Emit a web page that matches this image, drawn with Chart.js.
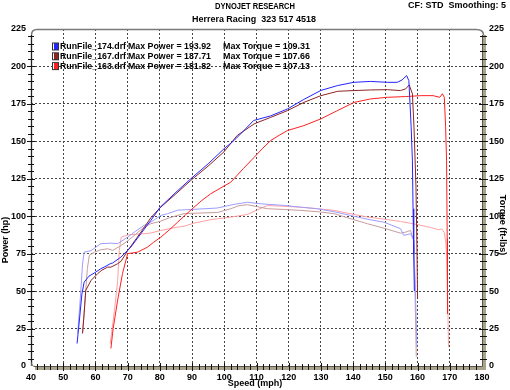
<!DOCTYPE html>
<html lang="en">
<head>
  <meta charset="UTF-8">
  <title>Dynojet Research</title>
  <script src="https://cdn.jsdelivr.net/npm/chart.js"></script>
  <style>
    html, body { margin: 0; padding: 0; background: #fff; }
    #wrap { width: 510px; height: 390px; }
  </style>
</head>
<body>
  <div id="wrap"><canvas id="dyno" width="510" height="390"></canvas></div>

  <script>
    // run 174 (blue)
    const speed174P = [54.3, 55.0, 55.8, 56.5, 58, 59.6, 61.7, 62.7, 64.8, 65.3, 67.9, 71, 74.1, 77.2, 80.1, 85, 89.6, 95, 99.9, 103, 106, 109.1, 114.4, 119.6, 124.7, 130, 135.1, 140.2, 145.4, 150.6, 153.7, 155.2, 156.6, 157.3, 158.0, 158.4, 158.6, 158.8, 159];
    const power174  = [15, 30, 48, 56, 60, 62, 65, 66, 68.5, 68.7, 72.7, 79.4, 88.3, 97.2, 106, 116, 125, 135, 145, 150.5, 157, 163.9, 167, 171.6, 178, 184, 187.2, 189.4, 190, 189.4, 189.4, 191, 193.9, 190.5, 160, 137, 105, 75, 50];
    const speed174T = [54.5, 55.3, 56, 56.5, 58.6, 61.7, 64.8, 66.9, 70, 72.5, 75.1, 77.2, 80.3, 82.4, 85.5, 89.6, 94, 97.9, 103, 107.2, 111.3, 118.6, 124, 128.9, 134, 139.2, 144.4, 149.6, 154.7, 155.7, 157.8, 158.8, 159.3, 159.8];
    const torque174 = [22, 45, 68, 76, 77, 81.7, 82, 81.7, 86, 90, 93.9, 96, 100.5, 101.7, 104, 104.5, 105, 105.5, 107.9, 109.3, 108.3, 107.2, 106, 105, 103, 100.5, 98, 96, 91.7, 87.2, 88.3, 84, 52.7, 12.7];

    // run 167 (maroon)
    const speed167P = [56, 56.5, 57, 58.6, 60.7, 62, 63.8, 64.8, 66.9, 68, 70, 73, 75, 77.2, 80, 85, 89.6, 95, 99.9, 104, 109.3, 114.4, 119.6, 124.7, 130, 135.2, 140.3, 145.4, 150.6, 154.7, 156.3, 157.4, 158.4, 158.9, 159.5, 159.8, 160];
    const power167  = [21.7, 35, 50.5, 57, 61.7, 64, 66, 66, 68.3, 70, 77, 86, 92, 99, 105.5, 115, 123.9, 133.5, 143, 153.9, 161.7, 166, 170.5, 176, 180.5, 183.4, 183.9, 184.3, 184.5, 183.9, 185, 187.7, 181.7, 159, 120, 80, 45];
    const speed167T = [56, 56.8, 57.5, 58.1, 59.7, 61.5, 63.8, 65.4, 68, 70, 72.5, 75.1, 77.2, 80.3, 83, 87.5, 90.6, 97.9, 102, 104.5, 107.2, 110, 113.4, 118.6, 123.7, 129, 134.1, 139, 144.4, 149.6, 154.7, 156.5, 157.8, 158.8, 159.2, 159.6];
    const torque167 = [22, 45, 65, 73.9, 76, 77.5, 78.3, 77.2, 80.5, 83.5, 88, 92.7, 95, 96.7, 99, 101.7, 102, 102.5, 105, 107, 107.7, 106.5, 105, 104.5, 103.9, 103, 101.7, 98.5, 95, 92, 88.7, 89.5, 90.5, 84, 50, 6];

    // run 163 (red)
    const speed163P = [64.8, 65.5, 66.9, 68.4, 70, 71.5, 73.1, 76.2, 78, 80.3, 83, 85.5, 88, 90.6, 93, 95.8, 99, 102, 103, 106, 109.3, 112, 114.4, 117, 119.6, 124.7, 130, 135.1, 140.3, 145.4, 150.6, 156.3, 161, 164.8, 166.9, 167.7, 168.3, 168.7, 169, 169.2, 169.3];
    const power163  = [11.7, 25, 44, 61.7, 75, 75.5, 76, 79.4, 82.5, 86, 91, 96, 101, 106, 110.5, 115, 119, 122.7, 125, 132, 139.4, 145.5, 150.5, 154, 157.2, 160.5, 165, 170.5, 176, 178.3, 179.4, 179.9, 180.5, 180.5, 179.4, 181.8, 179.4, 160, 137, 85, 35];
    const speed163T = [64.6, 65.9, 66.9, 67.4, 68, 70, 75.1, 77.2, 80.3, 85.5, 87.5, 90.6, 95.8, 97.9, 102, 107.2, 110, 113.4, 118, 123.7, 129, 134.1, 139, 144.4, 149.6, 154.7, 159.8, 164, 166.5, 167.5, 168.3, 168.8, 169.1, 169.4, 169.6];
    const torque163 = [15, 37, 57, 77, 86, 87.5, 88.3, 88.8, 90.5, 92.7, 93.3, 95.4, 97.7, 98.3, 99.4, 101.2, 104, 107.1, 106.7, 106, 105, 103.9, 101.7, 99.5, 98, 96.5, 94.5, 92.5, 91, 91.5, 89, 82, 70.5, 40, 12.7];

    const runNames = ['RunFile_174.drf', 'RunFile_167.drf', 'RunFile_163.drf'];
    const maxPower = ['193.92', '187.71', '181.82'];
    const maxTorque = ['109.31', '107.66', '107.13'];

    const FONT = 'Liberation Sans, Arial, sans-serif';
    const runColors = ['#2424ff', '#8c2424', '#ff2020'];
    const torqueColors = ['#9c9cff', '#c89c9c', '#ffa0a0'];

    function toPoints(xs, ys) {
      return xs.map((x, i) => ({ x: x, y: ys[i] }));
    }

    function line(label, xs, ys, color, axis) {
      return {
        label: label,
        data: toPoints(xs, ys),
        borderColor: color,
        borderWidth: 1,
        pointRadius: 0,
        tension: 0,
        fill: false,
        yAxisID: axis
      };
    }

    // frame, ticks, titles and legend drawn on top of the chart
    const dynoFrame = {
      id: 'dynoFrame',
      afterDraw(chart) {
        const ctx = chart.ctx;
        const a = chart.chartArea;
        const xs = chart.scales.x;
        const ys = chart.scales.y;
        ctx.save();

        // frame
        const r = 6;
        ctx.strokeStyle = '#7a7a7a';
        ctx.lineWidth = 1.5;
        ctx.beginPath();
        ctx.moveTo(a.left + 0.5, a.bottom);
        ctx.lineTo(a.left + 0.5, a.top + r);
        ctx.quadraticCurveTo(a.left + 0.5, a.top + 0.5, a.left + r, a.top + 0.5);
        ctx.lineTo(a.right - r, a.top + 0.5);
        ctx.quadraticCurveTo(a.right + 1.5, a.top + 0.5, a.right + 1.5, a.top + r);
        ctx.stroke();

        // right and bottom bevel
        ctx.fillStyle = '#aaa48e';
        ctx.fillRect(a.right, a.top + r, 4, a.bottom - a.top - r + 4);
        ctx.fillRect(a.left + 4, a.bottom, a.right - a.left, 4);
        ctx.strokeStyle = '#5a5448';
        ctx.lineWidth = 1;
        ctx.beginPath();
        ctx.moveTo(a.right + 0.5, a.top + r);
        ctx.lineTo(a.right + 0.5, a.bottom + 0.5);
        ctx.lineTo(a.left + 4, a.bottom + 0.5);
        ctx.quadraticCurveTo(a.left + 0.5, a.bottom + 0.5, a.left + 0.5, a.bottom - 4);
        ctx.stroke();

        // left axis line
        ctx.strokeStyle = '#222';
        ctx.beginPath();
        ctx.moveTo(a.left + 0.5, a.top + r);
        ctx.lineTo(a.left + 0.5, a.bottom - 4);
        ctx.stroke();

        // minor and major ticks
        ctx.strokeStyle = '#111';
        ctx.beginPath();
        for (let v = 5; v < 225; v += 5) {
          const y = Math.round(ys.getPixelForValue(v)) + 0.5;
          const big = v % 25 === 0 ? 1 : 0;
          ctx.moveTo(a.left - 3 - big, y); ctx.lineTo(a.left + 3 + big, y);
          ctx.moveTo(a.right - 2 - big, y); ctx.lineTo(a.right + 5 + big, y);
        }
        for (let s = 42; s < 180; s += 2) {
          const x = Math.round(xs.getPixelForValue(s)) + 0.5;
          const big = s % 10 === 0 ? 1 : 0;
          ctx.moveTo(x, a.bottom - 2 - big); ctx.lineTo(x, a.bottom + 4 + big);
        }
        ctx.stroke();

        // titles
        ctx.fillStyle = '#000';
        ctx.font = 'bold 9px ' + FONT;
        ctx.textBaseline = 'middle';
        ctx.textAlign = 'center';
        ctx.fillText('DYNOJET RESEARCH', 255, 7, 80);
        ctx.fillText('Herrera Racing  323 517 4518', 254, 20, 124);
        ctx.textAlign = 'right';
        ctx.fillText('CF: STD  Smoothing: 5', 506, 6, 98);

        ctx.textAlign = 'center';
        ctx.fillText('Speed (mph)', 255, 384);
        ctx.save();
        ctx.translate(6, 240);
        ctx.rotate(-Math.PI / 2);
        ctx.fillText('Power (hp)', 0, 0);
        ctx.restore();
        ctx.save();
        ctx.translate(502, 225);
        ctx.rotate(Math.PI / 2);
        ctx.fillText('Torque (ft-lbs)', 0, 0);
        ctx.restore();

        // legend
        ctx.textAlign = 'left';
        for (let i = 0; i < runNames.length; i++) {
          const y = 46.5 + i * 9.8;
          ctx.fillStyle = '#333';
          ctx.fillRect(52, y - 4, 7, 8);
          ctx.fillStyle = runColors[i];
          ctx.fillRect(53, y - 3, 5, 6);
          ctx.fillStyle = '#ffffff';
          ctx.fillRect(53, y - 3, 1, 6);
          ctx.fillStyle = '#000';
          ctx.fillText(runNames[i], 60, y, 66);
          ctx.fillText('Max Power = ' + maxPower[i], 128, y, 83);
          ctx.fillText('Max Torque = ' + maxTorque[i], 223, y, 87);
        }
        ctx.restore();
      }
    };

    const gridColor = (c) => (c.index === 0 || c.tick.value === c.scale.max) ? 'rgba(0,0,0,0)' : '#444';
    const tickFont = { family: FONT, size: 9, weight: 'bold' };

    new Chart(document.getElementById('dyno').getContext('2d'), {
      type: 'line',
      data: {
        datasets: [
          line('174 Power', speed174P, power174, runColors[0], 'y'),
          line('167 Power', speed167P, power167, runColors[1], 'y'),
          line('163 Power', speed163P, power163, runColors[2], 'y'),
          line('174 Torque', speed174T, torque174, torqueColors[0], 'y1'),
          line('167 Torque', speed167T, torque167, torqueColors[1], 'y1'),
          line('163 Torque', speed163T, torque163, torqueColors[2], 'y1')
        ]
      },
      options: {
        responsive: false,
        animation: false,
        layout: { padding: { top: 29 } },
        plugins: { legend: { display: false }, tooltip: { enabled: false } },
        scales: {
          x: {
            type: 'linear',
            min: 40,
            max: 180,
            ticks: { stepSize: 10, color: '#000', padding: 6, maxRotation: 0, font: tickFont },
            grid: { color: gridColor, drawTicks: false },
            border: { display: false, dash: [2, 2] },
            afterFit(s) { s.height = 24; }
          },
          y: {
            position: 'left',
            min: 0,
            max: 225,
            ticks: { stepSize: 25, color: '#000', padding: 5, font: tickFont },
            grid: { color: gridColor, drawTicks: false },
            border: { display: false, dash: [2, 2] },
            afterFit(s) { s.width = 31; }
          },
          y1: {
            position: 'right',
            min: 0,
            max: 225,
            ticks: { stepSize: 25, color: '#000', padding: 7, font: tickFont },
            grid: { drawOnChartArea: false, drawTicks: false },
            border: { display: false },
            afterFit(s) { s.width = 28; }
          }
        }
      },
      plugins: [dynoFrame]
    });
  </script>
</body>
</html>
